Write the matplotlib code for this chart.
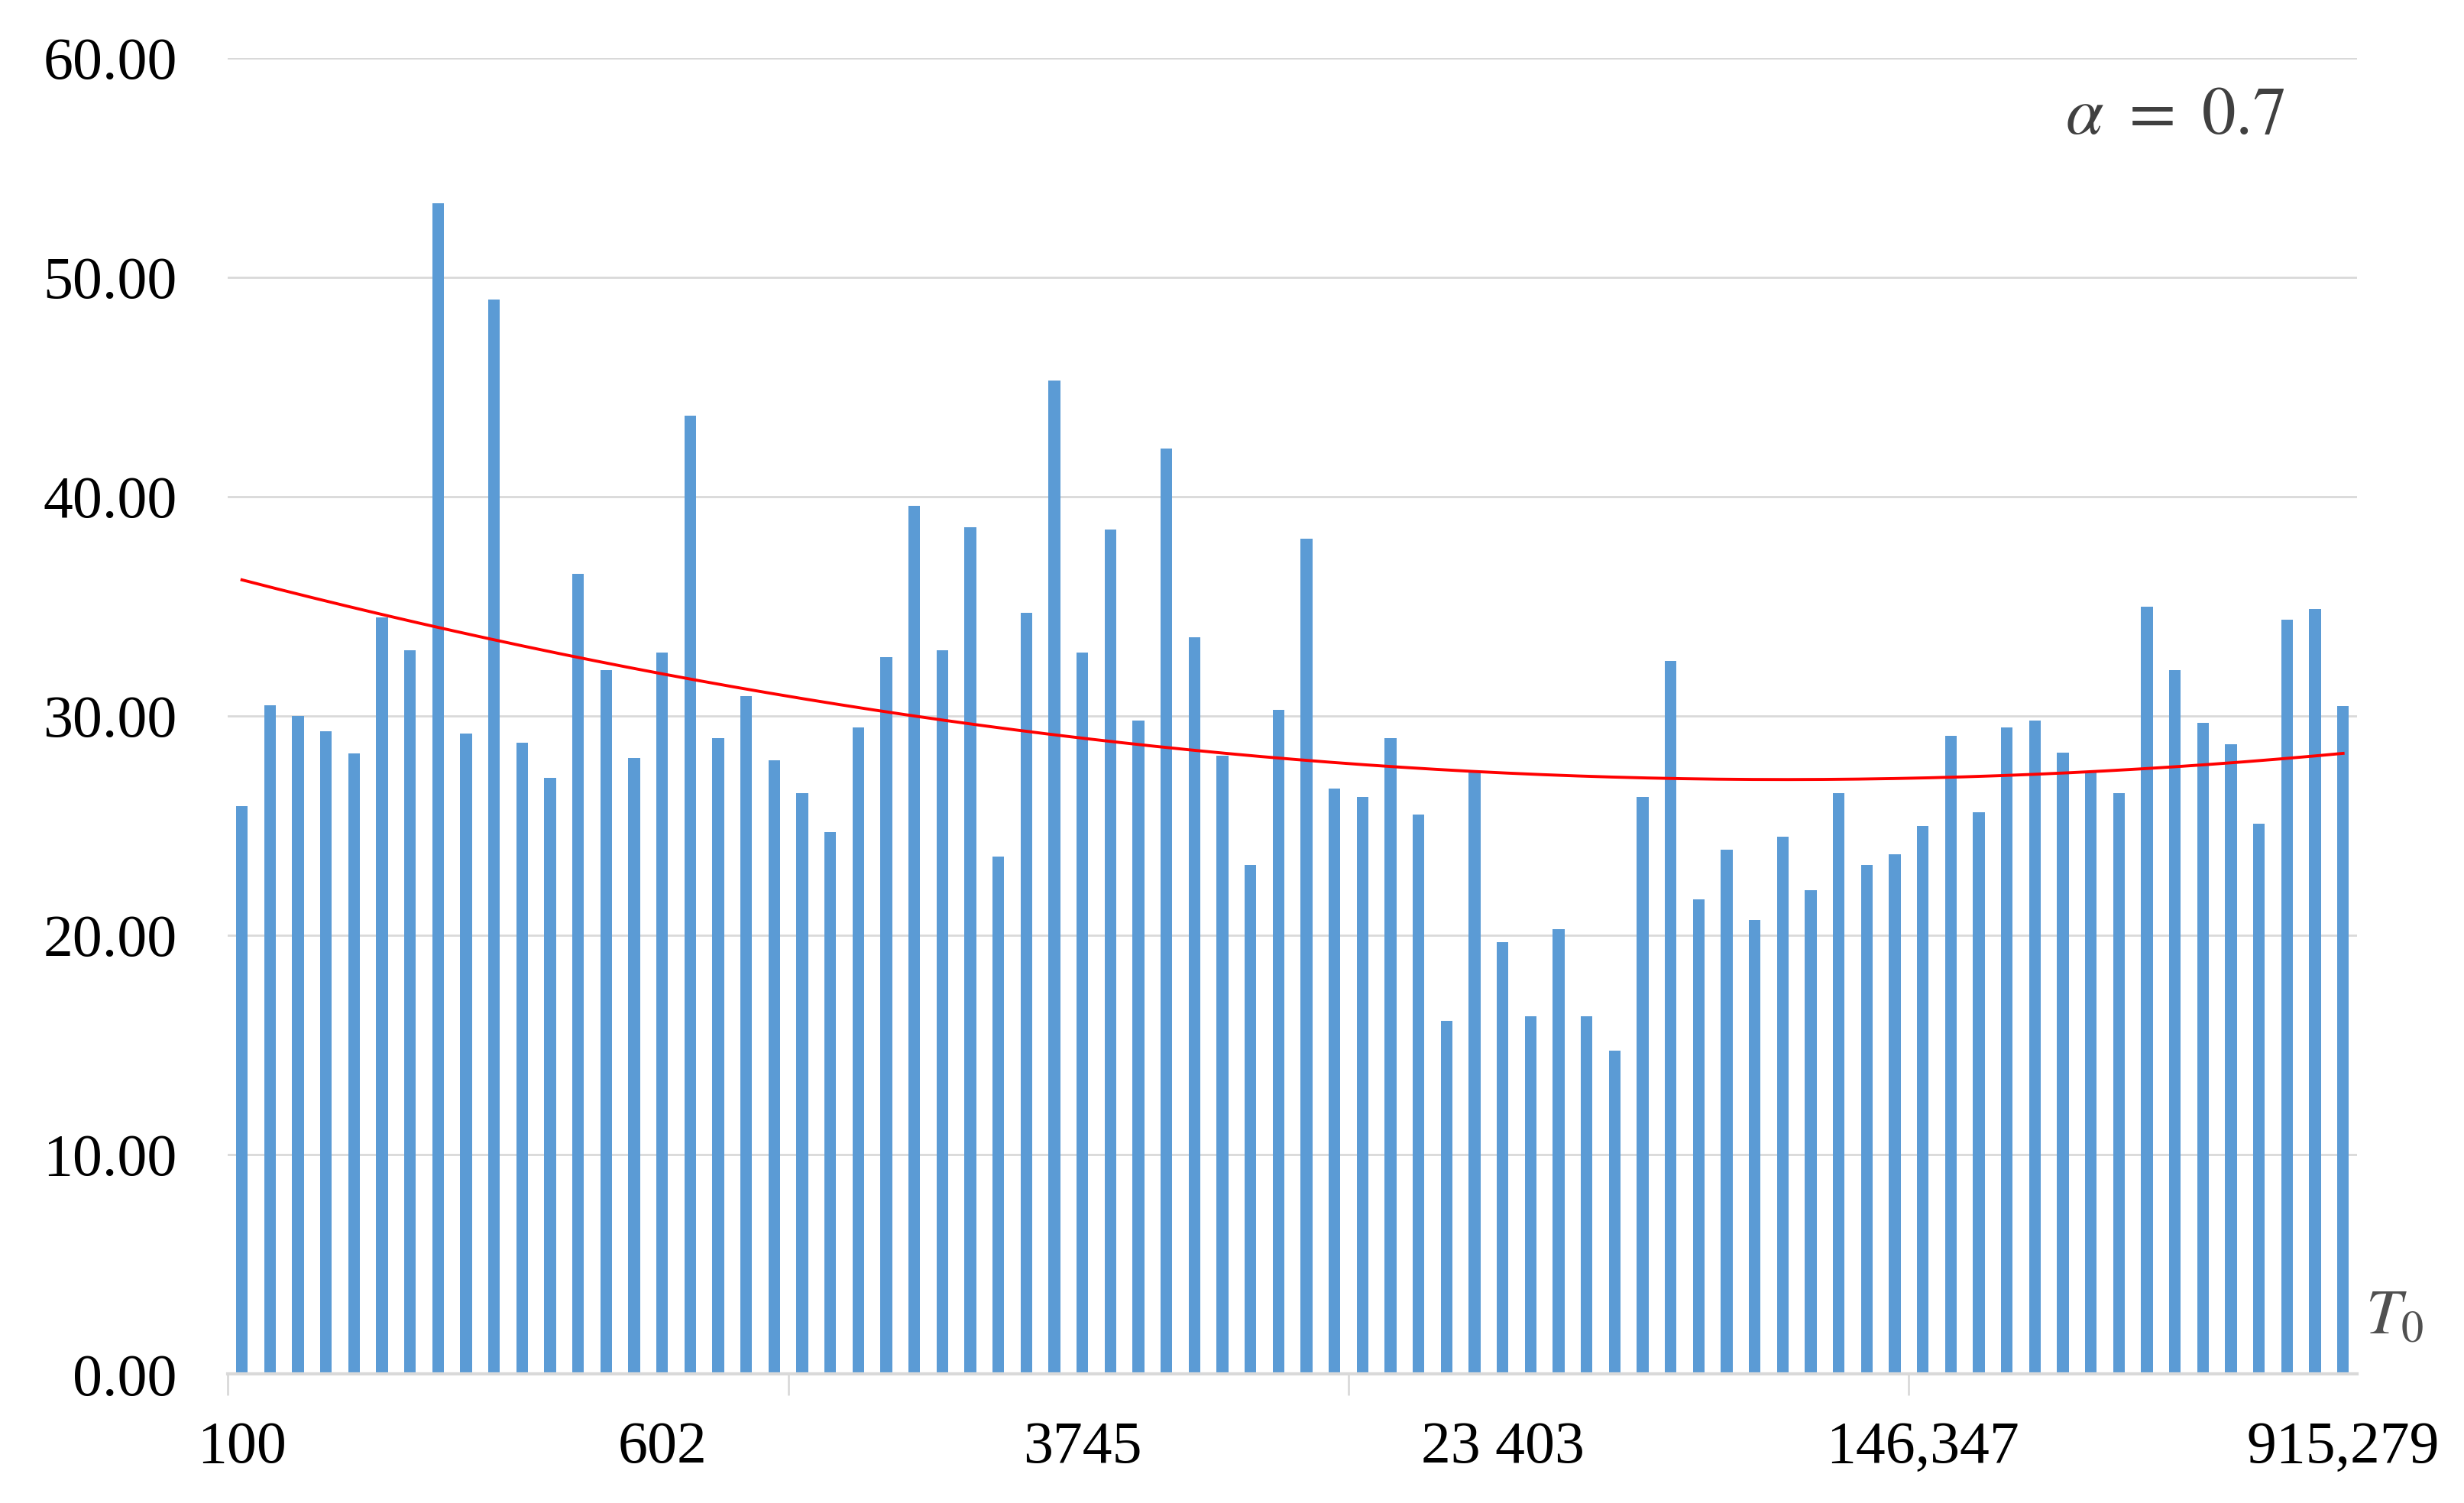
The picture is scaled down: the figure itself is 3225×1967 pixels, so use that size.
import numpy as np
import matplotlib
matplotlib.use("Agg")
import matplotlib.pyplot as plt

# bar heights, one per T0 step (76 categories)
values = [25.9, 30.5, 30.0, 29.3, 28.3, 34.5, 33.0, 53.4, 29.2, 49.0,
          28.8, 27.2, 36.5, 32.1, 28.1, 32.9, 43.7, 29.0, 30.9, 28.0,
          26.5, 24.7, 29.5, 32.7, 39.6, 33.0, 38.6, 23.6, 34.7, 45.3,
          32.9, 38.5, 29.8, 42.2, 33.6, 28.2, 23.2, 30.3, 38.1, 26.7,
          26.3, 29.0, 25.5, 16.1, 27.5, 19.7, 16.3, 20.3, 16.3, 14.75,
          26.3, 32.5, 21.65, 23.9, 20.7, 24.5, 22.05, 26.5, 23.2, 23.7,
          25.0, 29.1, 25.6, 29.5, 29.8, 28.35, 27.45, 26.5, 35.0, 32.1,
          29.7, 28.7, 25.1, 34.4, 34.9, 30.45]

label_pos = [0, 15, 30, 45, 60, 75]
label_text = ["100", "602", "3745", "23 403", "146,347", "915,279"]
yticks = [0, 10, 20, 30, 40, 50, 60]

plt.rcParams['font.family'] = ['Liberation Serif', 'DejaVu Serif']
plt.rcParams['mathtext.fontset'] = 'stix'

x = np.arange(len(values))

fig = plt.figure(figsize=(16.125, 9.835), dpi=200)
ax = fig.add_axes([0.0925, 0.0858, 0.8641, 0.8755])

ax.bar(x, values, width=0.42, color='#5B9BD5', zorder=2)

# polynomial (order 2) trendline like Excel's
coef = np.polyfit(x + 1, values, 2)
xs = np.linspace(0, len(values) - 1, 300)
ax.plot(xs, np.polyval(coef, xs + 1), color='#FF0000', lw=1.4, zorder=3)

ax.set_xlim(-0.5, len(values) - 0.5)
ax.set_ylim(0, 60)
ax.set_yticks(yticks)
ax.set_yticklabels(["%.2f" % v for v in yticks])
ax.yaxis.grid(True, color='#D9D9D9', lw=1.0, zorder=0)
ax.set_axisbelow(True)

ax.set_xticks(label_pos)
ax.set_xticklabels(label_text)
ax.set_xticks([-0.5, 19.5, 39.5, 59.5], minor=True)
ax.tick_params(axis='x', which='major', length=0, pad=22, labelsize=28)
ax.tick_params(axis='x', which='minor', length=10, color='#D9D9D9', width=1)
ax.tick_params(axis='y', length=0, pad=24, labelsize=28)

for s in ['top', 'right', 'left']:
    ax.spines[s].set_visible(False)
ax.spines['bottom'].set_color('#D9D9D9')
ax.spines['bottom'].set_linewidth(1.5)

ax.text(0.966, 0.955, r'$\alpha\ =\ 0.7$', transform=ax.transAxes, fontsize=32,
        color='#404040', ha='right', va='center')
ax.text(1.004, 0.042, r'$T_0$', transform=ax.transAxes, fontsize=30,
        color='#505050', ha='left', va='center')

plt.savefig("out.png", dpi=200)
